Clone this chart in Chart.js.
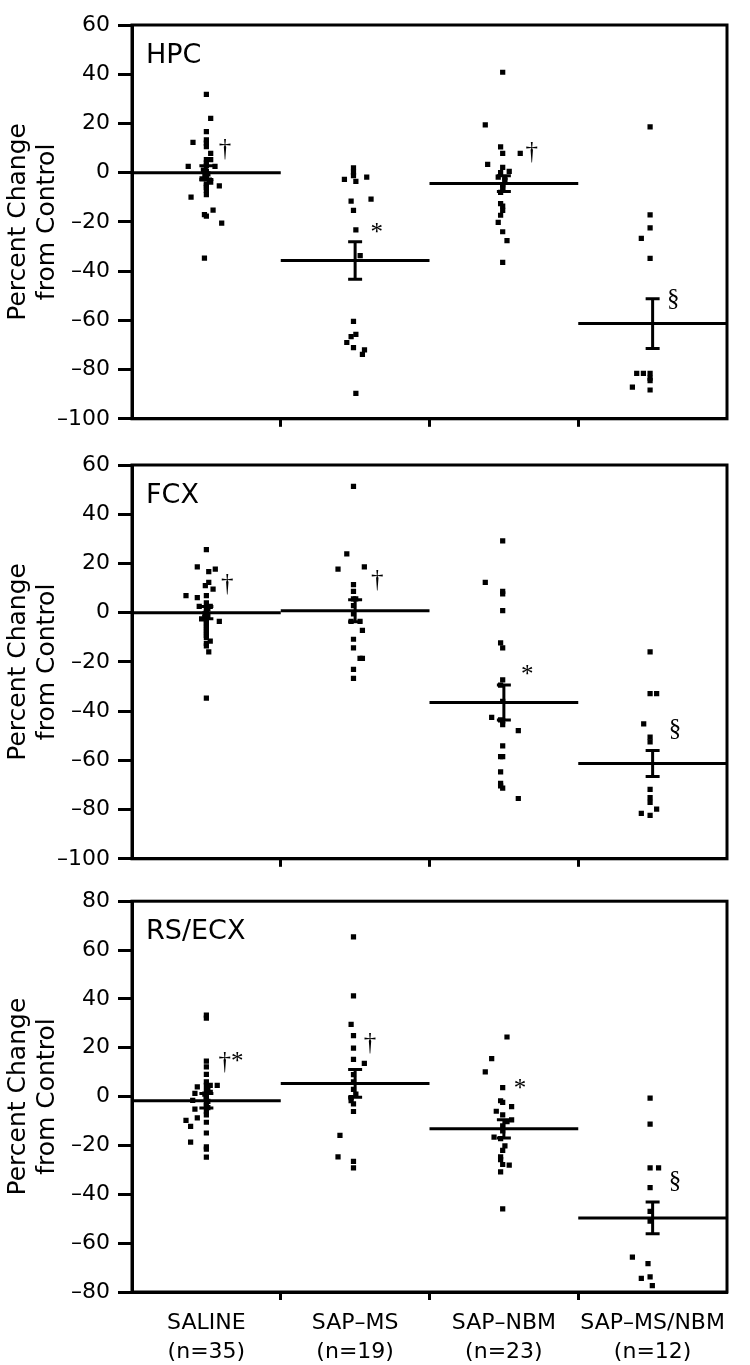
<!DOCTYPE html>
<html lang="en">

<head>
    <meta charset="UTF-8">
    <script src="https://cdn.jsdelivr.net/npm/chart.js"></script>
    <style>
        body {
            margin: 0;
            background: #fff;
            width: 750px;
        }

        .panel {
            position: relative;
            width: 750px;
        }
    </style>
</head>

<body>
    <div class="panel" style="height:440px"><canvas id="hpcChart"></canvas></div>
    <div class="panel" style="height:440px"><canvas id="fcxChart"></canvas></div>
    <div class="panel" style="height:485px"><canvas id="rsChart"></canvas></div>

    <script>
        // groups on the x axis
        const groups = ['SALINE', 'SAP\u2013MS', 'SAP\u2013NBM', 'SAP\u2013MS/NBM'];
        const groupN = ['(n=35)', '(n=19)', '(n=23)', '(n=12)'];

        // points are [jitter, percent change] per group
        const hpcSaline = [[0, 31.8], [0.029, 22.1], [0, 16.7], [-0.09, 12.3], [0, 13.3], [0, 12.0], [0, 10.6], [0.029, 7.8], [0, 5.3], [0.029, 5.3], [-0.122, 2.6], [0.058, 2.6], [0, 2.9], [-0.029, -2.5], [0, -1.1], [0.029, -3.8], [0, -5.2], [0.087, -5.4], [0, -7.2], [0, -8.9], [-0.103, -9.9], [-0.013, -17.0], [0, -17.7], [0.045, -15.2], [0.103, -20.5], [-0.013, -34.7], [0, 0.5], [0.01, -0.5], [-0.02, 1], [0, -2], [0.02, -3], [0, -4.5], [0, -6], [-0.01, -1.5], [0, 4]];
        const hpcMs = [[-0.011, 2.0], [-0.011, 0.2], [-0.011, -1.2], [-0.072, -2.7], [0.005, -3.5], [0.078, -1.8], [-0.027, -11.6], [0.107, -10.7], [-0.011, -15.3], [0.005, -23.2], [0.034, -33.7], [-0.011, -60.4], [-0.027, -66.6], [0.005, -65.7], [-0.056, -69.0], [-0.011, -71.1], [0.063, -72.0], [0.049, -73.8], [0.005, -89.7]];
        const hpcNbm = [[-0.008, 40.8], [-0.125, 19.4], [-0.022, 10.5], [-0.008, 7.8], [0.11, 7.8], [-0.109, 3.4], [-0.008, 2.2], [-0.022, 0], [0.036, 0.5], [-0.038, -1.8], [0.007, -3.1], [-0.022, -12.6], [-0.008, -13.6], [-0.008, -15.3], [-0.022, -17.3], [-0.038, -20.2], [-0.008, -24.0], [0.021, -27.6], [-0.008, -36.4], [-0.008, -5], [-0.008, -6], [-0.022, -8], [0.007, -2]];
        const hpcBoth = [[-0.017, 18.6], [-0.017, -17.1], [-0.017, -22.4], [-0.076, -26.7], [-0.017, -34.8], [-0.107, -81.5], [-0.062, -81.5], [-0.017, -81.5], [-0.017, -83.5], [-0.136, -87.1], [-0.017, -88.3], [-0.017, -84.5]];
        const hpcMean = [0, -35.7, -4.4, -61.3];
        const hpcSem = [2.8, 7.6, 3.2, 10.1];
        const hpcMarks = ['\u2020', '*', '\u2020', '\u00a7'];
        const hpcMarkY = [9.6, -24.6, 8.4, -51.5];
        const hpcMarkDx = [0.125, 0.145, 0.187, 0.139];

        const fcxSaline = [[0, 25.6], [-0.061, 18.6], [0.016, 16.7], [0.06, 17.7], [0.016, 12.3], [-0.007, 11.0], [0.045, 9.6], [-0.137, 6.9], [-0.061, 6.1], [0, 6.9], [-0.048, 2.6], [0.026, 2.6], [0, 0.9], [0, -1.1], [-0.032, -2.5], [0, -3.1], [0.087, -3.5], [0, -5.2], [0, -7.2], [0, -9.2], [0.026, -11.6], [0, -12.5], [0, -13.5], [0.016, -15.9], [0, -34.7], [0, 0], [0.01, -1.5], [-0.01, -2], [0, -4], [0, -6], [0, -8], [0.01, 1.5], [0, 4], [0, -10], [-0.01, -0.5]];
        const fcxMs = [[-0.011, 51.3], [-0.056, 23.9], [-0.115, 17.7], [0.062, 18.6], [-0.011, 11.4], [-0.011, 8.7], [-0.011, 5.6], [0.004, 5.6], [-0.011, 2.9], [-0.011, -0.5], [-0.027, -3.5], [0.033, -3.5], [0.049, -7.2], [-0.011, -10.8], [-0.011, -14.3], [0.033, -18.6], [0.049, -18.6], [-0.011, -23.0], [-0.011, -26.7]];
        const fcxNbm = [[-0.008, 29.2], [-0.125, 12.3], [-0.008, 8.7], [-0.008, 7.6], [-0.008, 0.8], [-0.022, -12.3], [-0.008, -14.3], [-0.008, -27.3], [-0.022, -29.4], [-0.082, -42.5], [-0.022, -43.6], [-0.008, -45.5], [0.097, -47.9], [-0.008, -54.1], [-0.022, -58.5], [-0.008, -58.5], [-0.022, -64.7], [-0.022, -69.4], [-0.008, -71.3], [-0.022, -70.4], [0.097, -75.5], [-0.008, -36], [-0.008, -44]];
        const fcxBoth = [[-0.017, -15.9], [-0.017, -32.9], [0.027, -32.9], [-0.06, -45.2], [-0.017, -50.6], [-0.017, -52.5], [-0.017, -71.8], [-0.017, -75.1], [-0.017, -77.1], [0.027, -79.8], [-0.076, -81.5], [-0.017, -82.4]];
        const fcxMean = [0, 0.8, -36.5, -61.3];
        const fcxSem = [2.5, 4.5, 7.1, 5.3];
        const fcxMarks = ['\u2020', '\u2020', '*', '\u00a7'];
        const fcxMarkY = [11.6, 13.0, -25.3, -47.5];
        const fcxMarkDx = [0.14, 0.149, 0.157, 0.15];

        const rsSaline = [[0, 33.4], [0, 32.1], [0, 14.5], [0, 12.2], [0, 9.1], [0, 4.6], [0.026, 4.6], [0.073, 4.6], [-0.061, 4.0], [-0.077, 1.3], [0.026, 1.7], [0, 0], [-0.092, -1.5], [0, -3.7], [-0.077, -5.1], [0, -7.5], [-0.061, -8.7], [-0.137, -9.7], [0, -10.5], [-0.106, -12.2], [0, -14.9], [-0.106, -18.6], [0, -20.6], [0, -21.5], [0, -24.8], [0, 2.5], [0.01, 3], [0, -0.5], [0.01, -2], [0, -3], [-0.01, 1], [0, -6], [0.01, -4.5], [0, 6], [0, -1]];
        const rsMs = [[-0.011, 65.4], [-0.011, 41.2], [-0.027, 29.6], [-0.011, 25.0], [-0.011, 19.8], [-0.011, 15.2], [0.062, 13.6], [-0.027, -0.4], [-0.027, -1.7], [-0.011, -3.0], [-0.011, -6.1], [-0.102, -15.9], [-0.115, -24.7], [-0.011, -26.5], [-0.011, -29.2], [-0.011, 6], [-0.011, 3], [0.005, 1], [-0.011, 9]];
        const rsNbm = [[0.021, 24.4], [-0.082, 15.5], [-0.125, 10.1], [-0.008, 3.7], [-0.022, -1.7], [-0.008, -2.4], [0.052, -4.1], [-0.051, -6.0], [-0.008, -7.5], [0.021, -10.2], [0.052, -9.5], [-0.066, -16.6], [-0.022, -17.2], [0.007, -20.2], [-0.008, -22.0], [-0.022, -24.7], [-0.022, -25.8], [0.036, -28.1], [-0.008, -27.8], [-0.022, -30.8], [-0.008, -46.0], [-0.008, -12], [-0.008, -14]];
        const rsBoth = [[-0.017, -0.6], [-0.017, -11.3], [-0.017, -29.2], [0.04, -29.2], [-0.017, -37.3], [-0.017, -47], [-0.017, -51], [-0.136, -65.7], [-0.031, -68.4], [-0.076, -74.4], [-0.017, -73.8], [-0.002, -77.4]];
        const rsMean = [-1.7, 5.4, -13.2, -49.7];
        const rsSem = [3, 5.7, 3.7, 6.5];
        const rsMarks = ['\u2020*', '\u2020', '*', '\u00a7'];
        const rsMarkY = [13.8, 21.9, 3.0, -34.8];
        const rsMarkDx = [0.165, 0.1, 0.108, 0.15];

        const FONT = '"DejaVu Sans", Verdana, sans-serif';
        const CAP = 0.047;

        // frame, panel name and significance marks
        const extrasPlugin = {
            id: 'extras',
            afterDatasetsDraw(chart, args, opts) {
                const { ctx, chartArea, scales } = chart;
                ctx.save();
                ctx.strokeStyle = '#000';
                ctx.lineWidth = 3;
                ctx.strokeRect(chartArea.left, chartArea.top, chartArea.right - chartArea.left, chartArea.bottom - chartArea.top);
                ctx.fillStyle = '#000';
                ctx.font = '27px ' + FONT;
                ctx.textAlign = 'left';
                ctx.textBaseline = 'alphabetic';
                ctx.fillText(opts.label, chartArea.left + 14, chartArea.top + 38);
                ctx.font = '25px "Liberation Serif", serif';
                ctx.textAlign = 'center';
                ctx.textBaseline = 'middle';
                opts.marks.forEach((m, i) => {
                    ctx.fillText(m, scales.x.getPixelForValue(i + 0.5 + opts.markDx[i]), scales.y.getPixelForValue(opts.markY[i]));
                });
                ctx.restore();
            }
        };

        function lineSet(points) {
            return {
                type: 'line',
                data: points,
                borderColor: '#000',
                borderWidth: 3,
                pointRadius: 0,
                fill: false
            };
        }

        function buildPanel(id, pointGroups, means, sems, marks, markY, markDx, label, yMin, yMax, bottomLabels, padTop, xHeight) {
            const points = [];
            pointGroups.forEach((g, i) => g.forEach(p => points.push({ x: i + 0.5 + p[0], y: p[1] })));

            const datasets = [{
                type: 'scatter',
                data: points,
                pointStyle: 'rect',
                pointRadius: 3.7,
                backgroundColor: '#000',
                borderWidth: 0
            }];
            means.forEach((m, i) => {
                const c = i + 0.5;
                datasets.push(lineSet([{ x: i, y: m }, { x: i + 1, y: m }]));
                datasets.push(lineSet([{ x: c, y: m - sems[i] }, { x: c, y: m + sems[i] }]));
                datasets.push(lineSet([{ x: c - CAP, y: m + sems[i] }, { x: c + CAP, y: m + sems[i] }]));
                datasets.push(lineSet([{ x: c - CAP, y: m - sems[i] }, { x: c + CAP, y: m - sems[i] }]));
            });

            new Chart(document.getElementById(id), {
                data: { datasets: datasets },
                options: {
                    responsive: true,
                    maintainAspectRatio: false,
                    animation: false,
                    layout: { padding: { top: padTop, right: 23, left: 0, bottom: 0 } },
                    plugins: {
                        legend: { display: false },
                        tooltip: { enabled: false },
                        extras: { label: label, marks: marks, markY: markY, markDx: markDx }
                    },
                    scales: {
                        x: {
                            type: 'linear',
                            min: 0,
                            max: 4,
                            afterBuildTicks: s => {
                                s.ticks = [0, 0.5, 1, 1.5, 2, 2.5, 3, 3.5, 4].map(v => ({ value: v }));
                            },
                            afterFit: s => { s.height = xHeight; },
                            grid: {
                                drawOnChartArea: false,
                                tickLength: 8,
                                tickWidth: 3,
                                tickColor: c => (c.tick && (c.tick.value === 1 || c.tick.value === 2 || c.tick.value === 3)) ? '#000' : 'rgba(0,0,0,0)'
                            },
                            border: { display: true, width: 3, color: '#000' },
                            ticks: {
                                autoSkip: false,
                                maxRotation: 0,
                                padding: 9,
                                color: '#000',
                                font: { family: FONT, size: 22, lineHeight: 1.3 },
                                callback: v => {
                                    if (!bottomLabels || Number.isInteger(v)) return '';
                                    const i = Math.floor(v);
                                    return [groups[i], groupN[i]];
                                }
                            }
                        },
                        y: {
                            min: yMin,
                            max: yMax,
                            afterFit: s => { s.width = 132; },
                            grid: { drawOnChartArea: false, tickLength: 14, tickWidth: 3, tickColor: '#000' },
                            border: { display: true, width: 3, color: '#000' },
                            ticks: {
                                stepSize: 20,
                                padding: 8,
                                color: '#000',
                                font: { family: FONT, size: 22 },
                                callback: v => v < 0 ? '\u2013' + Math.abs(v) : String(v)
                            },
                            title: {
                                display: true,
                                text: ['Percent Change', 'from Control'],
                                color: '#000',
                                padding: { top: 4, bottom: 0 },
                                font: { family: FONT, size: 25, lineHeight: 1.16 }
                            }
                        }
                    }
                },
                plugins: [extrasPlugin]
            });
        }

        buildPanel('hpcChart', [hpcSaline, hpcMs, hpcNbm, hpcBoth], hpcMean, hpcSem, hpcMarks, hpcMarkY, hpcMarkDx, 'HPC', -100, 60, false, 25, 18);
        buildPanel('fcxChart', [fcxSaline, fcxMs, fcxNbm, fcxBoth], fcxMean, fcxSem, fcxMarks, fcxMarkY, fcxMarkDx, 'FCX', -100, 60, false, 25, 18);
        buildPanel('rsChart', [rsSaline, rsMs, rsNbm, rsBoth], rsMean, rsSem, rsMarks, rsMarkY, rsMarkDx, 'RS/ECX', -80, 80, true, 17, 73);
    </script>
</body>

</html>
